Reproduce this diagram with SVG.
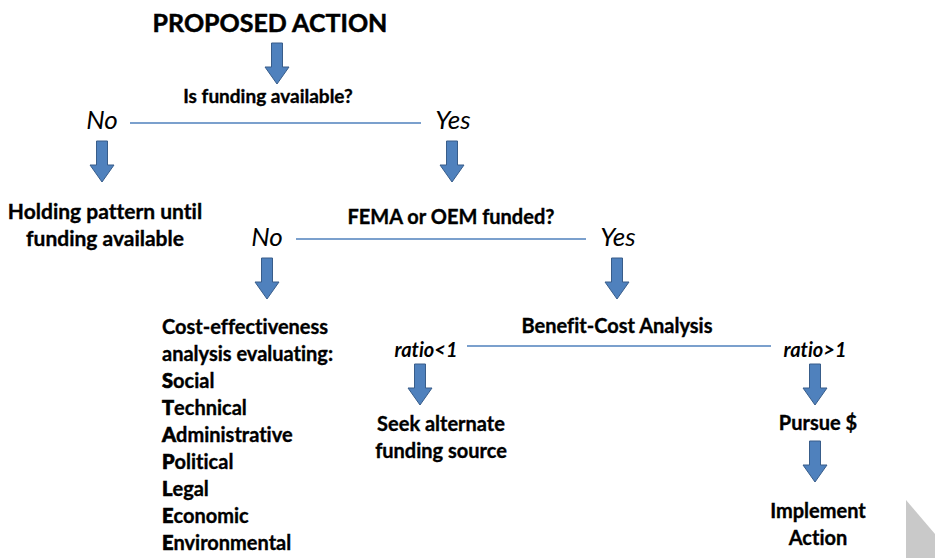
<svg xmlns="http://www.w3.org/2000/svg" width="935" height="558" viewBox="0 0 935 558">
<defs>
<style>
text{font-variant-ligatures:none;font-feature-settings:"liga" 0,"dlig" 0}
.t{font-family:Lato,"Open Sans","Liberation Sans",sans-serif;font-weight:bold;font-size:20px;fill:#000;stroke:#000;stroke-width:0.35}
.h{font-size:25px;stroke-width:0.5}
.b{font-size:21px}
.i{font-family:Lato,"Open Sans","Liberation Sans",sans-serif;font-style:italic;font-size:26px;fill:#000}
.r{font-family:Lato,"Open Sans","Liberation Sans",sans-serif;font-style:italic;font-weight:bold;font-size:20px;fill:#000}
.k{font-weight:900;stroke-width:0.7}
.ln{stroke:#4F81BD;stroke-width:1.5;fill:none}
.ar{fill:#4F81BD;stroke:#385D8A;stroke-width:1}
</style>
<path id="arr" d="M-5.5,0 H5.5 V24 H12 L0,41 L-12,24 H-5.5 Z"/>
</defs>
<rect width="935" height="558" fill="#fff"/>
<polygon points="906,500 935,534 935,558 906,558" fill="#c9c9c9"/>
<g id="connectors">
<line class="ln" x1="130" y1="123" x2="421" y2="123"/>
<line class="ln" x1="296" y1="239" x2="586" y2="239"/>
<line class="ln" x1="467" y1="346" x2="771" y2="346"/>
<use href="#arr" class="ar" x="277" y="43"/>
<use href="#arr" class="ar" x="102" y="141"/>
<use href="#arr" class="ar" x="452" y="141"/>
<use href="#arr" class="ar" x="267" y="258"/>
<use href="#arr" class="ar" x="617" y="258"/>
<use href="#arr" class="ar" x="420" y="364"/>
<use href="#arr" class="ar" x="815" y="364"/>
<use href="#arr" class="ar" x="815" y="441"/>
</g>
<g id="proposed"><text class="t h" x="270" y="32" text-anchor="middle">PROPOSED ACTION</text></g>
<g id="q1"><text class="t" x="268" y="103" text-anchor="middle" style="font-size:19px">Is funding available?</text></g>
<g id="no1"><text class="i" x="102" y="129" text-anchor="middle">No</text></g>
<g id="yes1"><text class="i" x="453" y="129" text-anchor="middle">Yes</text></g>
<g id="holding"><text class="t b" x="105" y="219" text-anchor="middle">Holding pattern until</text><text class="t b" x="105" y="246" text-anchor="middle">funding available</text></g>
<g id="q2"><text class="t" x="451" y="224" text-anchor="middle">FEMA or OEM funded?</text></g>
<g id="no2"><text class="i" x="267" y="246" text-anchor="middle">No</text></g>
<g id="yes2"><text class="i" x="618" y="246" text-anchor="middle">Yes</text></g>
<g id="cea">
<text class="t" x="162" y="334">Cost-effectiveness</text>
<text class="t" x="162" y="361">analysis evaluating:</text>
<text class="t" x="162" y="388"><tspan class="k">S</tspan>ocial</text>
<text class="t" x="162" y="415"><tspan class="k">T</tspan>echnical</text>
<text class="t" x="162" y="442"><tspan class="k">A</tspan>dministrative</text>
<text class="t" x="162" y="469"><tspan class="k">P</tspan>olitical</text>
<text class="t" x="162" y="496"><tspan class="k">L</tspan>egal</text>
<text class="t" x="162" y="523"><tspan class="k">E</tspan>conomic</text>
<text class="t" x="162" y="550"><tspan class="k">E</tspan>nvironmental</text>
</g>
<g id="bca"><text class="t" x="617" y="333" text-anchor="middle">Benefit-Cost Analysis</text></g>
<g id="rlt"><text class="r" x="426" y="357" text-anchor="middle">ratio&lt;1</text></g>
<g id="rgt"><text class="r" x="815" y="357" text-anchor="middle">ratio&gt;1</text></g>
<g id="seek"><text class="t" x="441" y="431" text-anchor="middle">Seek alternate</text><text class="t" x="441" y="458" text-anchor="middle">funding source</text></g>
<g id="pursue"><text class="t" x="818" y="430" text-anchor="middle">Pursue $</text></g>
<g id="implement"><text class="t" x="818" y="518" text-anchor="middle">Implement</text><text class="t" x="818" y="545" text-anchor="middle">Action</text></g>
</svg>
